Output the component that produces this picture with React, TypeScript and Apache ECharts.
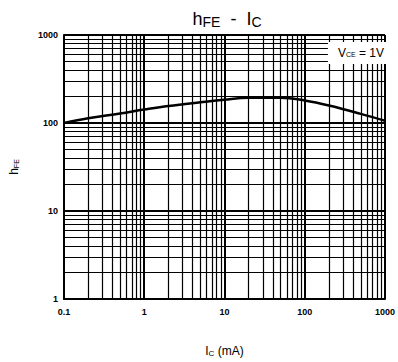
import React, { useEffect, useRef } from "react";
import * as echarts from "echarts";

const currentMA = [0.1, 0.2, 0.5, 1, 2, 5, 10, 20, 50, 100, 200, 500, 1000];
const hFE = [100, 113, 128, 142, 156, 172, 184, 193, 194, 180, 158, 127, 106];
const xDecades = [0.1, 1, 10, 100];
const yDecades = [1, 10, 100];
const minorMultipliers = [2, 3, 4, 5, 6, 7, 8, 9];

const FONT = "Liberation Sans, Arial, Helvetica, sans-serif";
const fmt = (v: number) => String(+v.toPrecision(6));

export default function App() {
  const ref = useRef<HTMLDivElement>(null);
  useEffect(() => {
    if (!ref.current) return;
    const chart = echarts.init(ref.current, undefined, { renderer: "svg" });
    const minorX: number[] = [];
    xDecades.forEach((d) => minorMultipliers.forEach((m) => minorX.push(+(d * m).toPrecision(6))));
    const minorY: number[] = [];
    yDecades.forEach((d) => minorMultipliers.forEach((m) => minorY.push(+(d * m).toPrecision(6))));

    const markData: any[] = [
      ...minorX.map((v) => ({ xAxis: v })),
      ...minorY.map((v) => ({ yAxis: v })),
    ];

    chart.setOption({
      animation: false,
      backgroundColor: "#fff",
      title: {
        text: "{h|h}{s|FE}{h|  -  I}{s|C}",
        left: 222,
        top: 2,
        textAlign: "center",
        textStyle: {
          fontWeight: "normal",
          rich: {
            h: { fontFamily: FONT, fontSize: 18, fontWeight: "normal", color: "#000", lineHeight: 24 },
            s: { fontFamily: FONT, fontSize: 14, fontWeight: "normal", color: "#000", lineHeight: 24, padding: [6, 0, 0, 0] },
          },
        },
      },
      grid: { left: 63, right: 7, top: 35, bottom: 61 },
      xAxis: {
        type: "log",
        logBase: 10,
        min: 0.1,
        max: 1000,
        name: "{h|I}{s|C}{h| (mA)}",
        nameLocation: "middle",
        nameGap: 44,
        nameTextStyle: {
          color: "#000",
          rich: {
            h: { fontFamily: FONT, fontSize: 12, color: "#000", lineHeight: 16 },
            s: { fontFamily: FONT, fontSize: 8, color: "#000", lineHeight: 16, padding: [4, 0, 0, 0] },
          },
        },
        axisLine: { show: true, lineStyle: { color: "#000", width: 2 } },
        axisTick: { show: false },
        axisLabel: {
          fontFamily: FONT,
          fontSize: 9,
          fontWeight: "bold",
          color: "#000",
          margin: 8,
          formatter: fmt,
        },
        splitLine: { show: true, lineStyle: { color: "#000", width: 2 } },
      },
      yAxis: {
        type: "log",
        logBase: 10,
        min: 1,
        max: 1000,
        name: "{h|h}{s|FE}",
        nameLocation: "middle",
        nameGap: 42,
        nameRotate: 90,
        nameTextStyle: {
          color: "#000",
          rich: {
            h: { fontFamily: FONT, fontSize: 12, color: "#000", lineHeight: 16 },
            s: { fontFamily: FONT, fontSize: 7, color: "#000", lineHeight: 16, padding: [4, 0, 0, 0] },
          },
        },
        axisLine: { show: true, lineStyle: { color: "#000", width: 2 } },
        axisTick: { show: false },
        axisLabel: {
          fontFamily: FONT,
          fontSize: 9,
          fontWeight: "bold",
          color: "#000",
          margin: 6,
          formatter: fmt,
        },
        splitLine: { show: true, lineStyle: { color: "#000", width: 2 } },
      },
      graphic: [
        {
          type: "text",
          right: 8,
          top: 42,
          z: 100,
          style: {
            text: "{v|V}{s|CE}{v| = 1V}",
            backgroundColor: "#fff",
            padding: [4, 6, 4, 10],
            rich: {
              v: { fontFamily: FONT, fontSize: 12, color: "#000", lineHeight: 14 },
              s: { fontFamily: FONT, fontSize: 7, color: "#000", lineHeight: 14, padding: [3, 0, 0, 0] },
            },
          },
        },
      ],
      series: [
        {
          type: "line",
          data: currentMA.map((x, i) => [x, hFE[i]]),
          smooth: 0.4,
          showSymbol: false,
          symbol: "none",
          lineStyle: { color: "#000", width: 2.5 },
          z: 5,
          silent: true,
          markLine: {
            silent: true,
            symbol: "none",
            label: { show: false },
            lineStyle: { color: "#000", width: 1.2, type: "solid" },
            data: markData,
          },
        },
      ],
    });
    return () => chart.dispose();
  }, []);
  return <div ref={ref} style={{ width: 398, height: 362, position: "absolute", left: 0, top: 0 }} />;
}
